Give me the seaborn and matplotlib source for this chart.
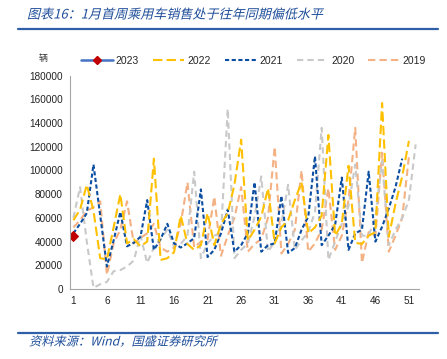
import numpy as np
import pandas as pd
import matplotlib
matplotlib.use("Agg")
import matplotlib.pyplot as plt
import seaborn as sns
from matplotlib.lines import Line2D
from matplotlib.patheffects import AbstractPathEffect
from matplotlib.transforms import Affine2D

sns.set_theme(style="white")
plt.rcParams['font.family'] = ['Liberation Sans', 'Noto Sans CJK SC', 'DejaVu Sans']

title = "图表16：1月首周乘用车销售处于往年同期偏低水平"
source = "资料来源：Wind，国盛证券研究所"
unit = "辆"

s2023 = [45000]
s2022 = [58000, 67000, 88000, 66000, 26000, 25000, 52000, 80000, 38500, 42000,
         36000, 40000, 110000, 24500, 26000, 31000, 62000, 38000, 33000, 37000,
         64000, 37000, 55000, 64000, 88000, 126000, 41000, 50000, 61000, 85000,
         38500, 52000, 58000, 75000, 90000, 47000, 52000, 62000, 130000, 45000,
         55000, 104000, 39000, 38000, 45000, 48000, 157000, 44000, 72000, 95000,
         125000]
s2021 = [47000, 55000, 64000, 105000, 62000, 19000, 41000, 65000, 36000, 39000,
         44000, 75000, 33000, 42000, 55000, 38500, 35000, 38500, 43000, 84000,
         27000, 33000, 47000, 67000, 31500, 37000, 47000, 90000, 31500, 37000,
         38500, 78500, 30500, 34500, 50000, 61000, 112000, 37000, 45000, 54000,
         94000, 33000, 47000, 50000, 99000, 40000, 52500, 68000, 86000, 110000]
s2020 = [60000, 86000, 40000, 1000, 4000, 6000, 15000, 16000, 19000, 24000,
         45000, 22000, 35000, 42000, 50000, 36000, 38000, 45000, 99000, 26000,
         38500, 45000, 47000, 152000, 26000, 33000, 38500, 61000, 95000, 31500,
         40000, 55000, 88000, 33000, 41000, 48000, 65000, 136000, 24500, 40000,
         55000, 70000, 105000, 45000, 45000, 60000, 108000, 37000, 50000, 60000,
         75000, 122000]
s2019 = [52000, 58000, 66000, 69000, 74000, 12000, 38500, 50000, 74000, 38500,
         43000, 47000, 55000, 35000, 31500, 35000, 55000, 90000, 35000, 40000,
         42000, 78000, 28000, 45000, 60000, 86000, 31500, 38000, 42000, 60000,
         120000, 30000, 38000, 50000, 100000, 31500, 38500, 50000, 85000, 33000,
         45000, 75000, 136000, 22000, 48000, 45000, 115000, 31500, 45000, 60000,
         112000]

names = ["2023", "2022", "2021", "2020", "2019"]
series = {"2023": s2023, "2022": s2022, "2021": s2021, "2020": s2020, "2019": s2019}
colors = {"2023": "#4472C4", "2022": "#FFC000", "2021": "#0B4EA2",
          "2020": "#C9C9C9", "2019": "#F4B183"}
dashes = {"2022": (4.5, 2), "2021": (2, 1.2), "2020": (3, 2), "2019": (3.5, 2)}


class Slant(AbstractPathEffect):
    """Draw text glyphs with a fake italic slant."""
    def __init__(self, deg=14):
        super().__init__()
        self.deg = deg

    def draw_path(self, renderer, gc, tpath, affine, rgbFace=None):
        renderer.draw_path(gc, tpath, Affine2D().skew_deg(self.deg, 0) + affine, rgbFace)


frames = []
for n in names:
    v = series[n]
    frames.append(pd.DataFrame({"week": np.arange(1, len(v) + 1), "sales": v, "year": n}))
df = pd.concat(frames, ignore_index=True)

fig = plt.figure(figsize=(4.47, 3.59), dpi=100)
ax = fig.add_axes([70 / 447, 1 - 289 / 359, 349 / 447, 213.3 / 359])

for n in ["2019", "2020", "2021", "2022"]:
    sns.lineplot(data=df[df.year == n], x="week", y="sales", ax=ax,
                 color=colors[n], linewidth=1.5, dashes=False, legend=False)
    ax.lines[-1].set_dashes(dashes[n])
sns.lineplot(data=df[df.year == "2023"], x="week", y="sales", ax=ax,
             color=colors["2023"], linewidth=1.8, marker="D", markersize=5,
             markerfacecolor="#C00000", markeredgecolor="#C00000", legend=False)

ax.set_xlim(0.5, 52.5)
ax.set_ylim(0, 180000)
ax.set_xticks([1, 6, 11, 16, 21, 26, 31, 36, 41, 46, 51])
ax.set_yticks(np.arange(0, 180001, 20000))
ax.set_yticklabels([str(int(t)) for t in np.arange(0, 180001, 20000)])
ax.tick_params(axis="both", labelsize=7.2, colors="#222222", length=0, pad=5)
ax.set_xlabel("")
ax.set_ylabel("")
for s in ["top", "right"]:
    ax.spines[s].set_visible(False)
for s in ["left", "bottom"]:
    ax.spines[s].set_color("#A6A6A6")
    ax.spines[s].set_linewidth(0.8)

handles = [Line2D([], [], color=colors["2023"], linewidth=1.8, marker="D", markersize=4,
                  markerfacecolor="#C00000", markeredgecolor="#C00000")]
for n in ["2022", "2021", "2020", "2019"]:
    h = Line2D([], [], color=colors[n], linewidth=1.5)
    h.set_dashes(dashes[n])
    handles.append(h)
fig.legend(handles, names, loc="center left", bbox_to_anchor=(72 / 447, 1 - 61 / 359),
           ncol=5, frameon=False, fontsize=7.5, handlelength=3.0, handletextpad=0.3,
           columnspacing=1.35)

fig.text(43 / 447, 1 - 58 / 359, unit, fontsize=6.5, ha="center", va="center",
         color="#333333", family=['Noto Sans CJK SC', 'DejaVu Sans'])
fig.text(27 / 447, 1 - 15 / 359, title, fontsize=9.4, ha="left", va="center",
         color="#1F4E9A", family=['Noto Sans CJK SC', 'DejaVu Sans'],
         path_effects=[Slant(14)])
fig.add_artist(Line2D([18 / 447, 438 / 447], [1 - 29 / 359, 1 - 29 / 359],
                      color="#2E5FA8", linewidth=1.6))
fig.add_artist(Line2D([18 / 447, 438 / 447], [1 - 333 / 359, 1 - 333 / 359],
                      color="#2E5FA8", linewidth=1.6))
fig.text(29 / 447, 1 - 342 / 359, source, fontsize=8.8, ha="left", va="center",
         color="#1F4E9A", family=['Noto Sans CJK SC', 'DejaVu Sans'],
         path_effects=[Slant(14)])

fig.savefig("out.png", dpi=100)
